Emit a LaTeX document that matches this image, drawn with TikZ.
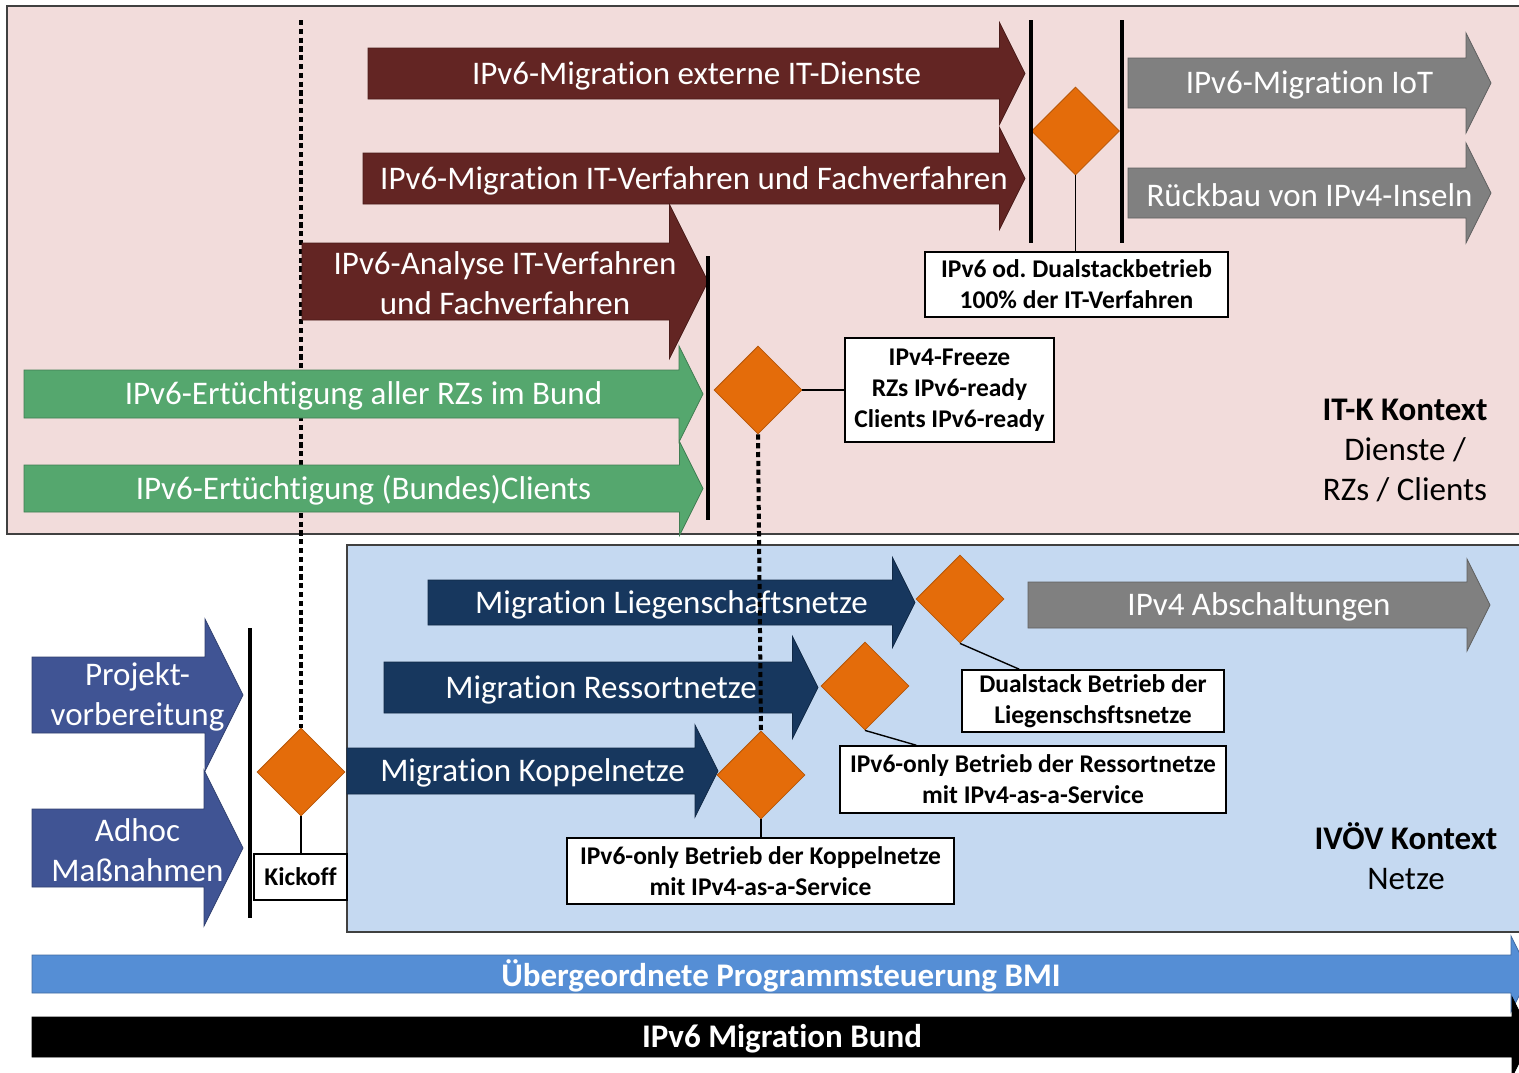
\documentclass[tikz,border=0pt]{standalone}
\usepackage{fontspec}
\setmainfont{Carlito}[Ligatures = NoCommon]
\usetikzlibrary{shapes.geometric}

\definecolor{pinkc}{RGB}{242,220,219}
\definecolor{lightbluec}{RGB}{197,217,241}
\definecolor{framec}{RGB}{64,64,64}
\definecolor{brownc}{RGB}{99,37,35}
\definecolor{greenc}{RGB}{85,167,110}
\definecolor{grayc}{RGB}{128,128,128}
\definecolor{navyc}{RGB}{23,55,94}
\definecolor{leftc}{RGB}{64,84,148}
\definecolor{bmic}{RGB}{85,142,213}
\definecolor{orangec}{RGB}{228,108,10}

% block arrow: name, colour, tail x, tip x, middle y, half shaft, text
\newcommand{\phase}[7]{%
    \filldraw[fill = #2, draw = #2!75!black, line width = .4pt]
        (#3,#5-#6) -- (#4-#6,#5-#6) -- (#4-#6,#5-2*#6) -- (#4,#5)
        -- (#4-#6,#5+2*#6) -- (#4-#6,#5+#6) -- (#3,#5+#6) -- cycle;
    \node[phasetext] (#1) at ({(#3+#4)/2},#5) {#7};}

\begin{document}
\frenchspacing
\begin{tikzpicture}[x = 0.5pt, y = -0.5pt, % one unit = one pixel of the sketch
                line join = miter
            ]

            \tikzstyle{phasetext}=[text = white, align = center, inner sep = 0pt,
            yshift = -1pt, font = \fontsize{16.5}{20}\selectfont]
            \tikzstyle{milestone}=[diamond, aspect = 1, minimum size = 44pt,
            inner sep = 0pt, fill = orangec, draw = orangec!80!black, line width = .4pt]
            \tikzstyle{result}=[draw = black, fill = white, line width = .8pt,
            inner sep = 0pt, align = center,
            font = \bfseries\fontsize{12.75}{15.5}\selectfont]
            \tikzstyle{gate}=[line width = 2pt]
            \tikzstyle{sync}=[line width = 2pt, dash pattern = on 2.6pt off 1.8pt]
            \tikzstyle{context}=[align = center, font = \fontsize{16.5}{20}\selectfont]

            \useasboundingbox (0,0) rectangle (1519,1072);

            % context areas
            \filldraw[fill = pinkc, draw = framec, line width = .8pt] (7,6) rectangle (1530,534);
            \filldraw[fill = lightbluec, draw = framec, line width = .8pt] (347,545) rectangle (1530,932);

            % kickoff
            \node[milestone] (mskick) at (301,772) {};
            \coordinate (synctop) at (301,20);
            \draw[sync] (synctop) -- (mskick.north);

            % IT-K phases
            \phase{ext}{brownc}{368}{1025}{73.5}{25.5}{IPv6-Migration externe IT-Dienste}
            \phase{itv}{brownc}{363}{1025}{178.5}{25.5}{IPv6-Migration IT-Verfahren und Fachverfahren}
            \phase{analyse}{brownc}{302}{708}{281.5}{38.5}{IPv6-Analyse IT-Verfahren\\und Fachverfahren}
            \phase{rzs}{greenc}{24}{703}{394}{24}{IPv6-Ertüchtigung aller RZs im Bund}
            \phase{clients}{greenc}{24}{703}{488.5}{23.5}{IPv6-Ertüchtigung (Bundes)Clients}
            \phase{iot}{grayc}{1128}{1491}{83}{25}{IPv6-Migration IoT}
            \phase{inseln}{grayc}{1128}{1491}{193}{25}{Rückbau von IPv4-Inseln}

            % IVÖV phases
            \phase{liegen}{navyc}{428}{915}{602.5}{22.5}{Migration Liegenschaftsnetze}
            \phase{ressort}{navyc}{384}{818}{687.5}{25.5}{Migration Ressortnetze}
            \phase{koppel}{navyc}{347}{718}{771}{23}{Migration Koppelnetze}
            \phase{abschalt}{grayc}{1028}{1490}{605}{23}{IPv4 Abschaltungen}

            % preparation
            \phase{projekt}{leftc}{32}{243}{695}{38}{Projekt-\\vorbereitung}
            \phase{adhoc}{leftc}{32}{243}{848}{39}{Adhoc\\Maßnahmen}

            % programme bars
            \phase{bmi}{bmic}{32}{1530}{974}{19}{\bfseries Übergeordnete Programmsteuerung BMI}
            \phase{bund}{black}{32}{1532}{1037}{20}{\bfseries IPv6 Migration Bund}

            % milestones
            \node[milestone] (msdienste) at (1075.5,131) {};
            \node[milestone] (msfreeze) at (758,390) {};
            \node[milestone] (msliegen) at (960,599) {};
            \node[milestone] (msressort) at (865,686) {};
            \node[milestone] (mskoppel) at (761,775) {};
            \draw[sync] (msfreeze.south) -- (mskoppel.north);

            % gates
            \draw[gate] (250,628) -- (250,918);
            \draw[gate] (708,256) -- (708,520);
            \draw[gate] (1031,20) -- (1031,243);
            \draw[gate] (1122,20) -- (1122,243);

            % results
            \node[result, minimum width = 151.5pt, minimum height = 32.5pt] (resdienste)
                at (1076.5,284.5) {IPv6 od. Dualstackbetrieb\\100\% der IT-Verfahren};
            \node[result, minimum width = 104.5pt, minimum height = 52pt] (resfreeze)
                at (949.5,390) {IPv4-Freeze\\RZs IPv6-ready\\Clients IPv6-ready};
            \node[result, minimum width = 131pt, minimum height = 31pt] (resliegen)
                at (1093,701) {Dualstack Betrieb der\\Liegenschsftsnetze};
            \node[result, minimum width = 193pt, minimum height = 33.5pt] (resressort)
                at (1033,779.5) {IPv6-only Betrieb der Ressortnetze\\mit IPv4-as-a-Service};
            \node[result, minimum width = 193.5pt, minimum height = 33pt] (reskoppel)
                at (760.5,871) {IPv6-only Betrieb der Koppelnetze\\mit IPv4-as-a-Service};
            \node[result, minimum width = 46.5pt, minimum height = 23pt] (kickoff)
                at (300.5,877) {Kickoff};

            \path[draw, line width = .7pt] (msdienste.south) -- (msdienste.south |- resdienste.north);
            \path[draw, line width = .7pt] (msfreeze.east) -- (resfreeze.west);
            \path[draw, line width = .7pt] (msliegen.south) -- ([xshift = 29pt]resliegen.north west);
            \path[draw, line width = .7pt] (msressort.south) -- ([xshift = 38.5pt]resressort.north west);
            \path[draw, line width = .7pt] (mskoppel.south) -- (mskoppel.south |- reskoppel.north);
            \path[draw, line width = .7pt] (mskick.south) -- (mskick.south |- kickoff.north);

            % context labels
            \node[context] (itk) at (1405,450) {\textbf{IT-K Kontext}\\Dienste /\\RZs / Clients};
            \node[context] (ivoev) at (1406,856) {\textbf{IVÖV Kontext}\\Netze};
\end{tikzpicture}
\end{document}
